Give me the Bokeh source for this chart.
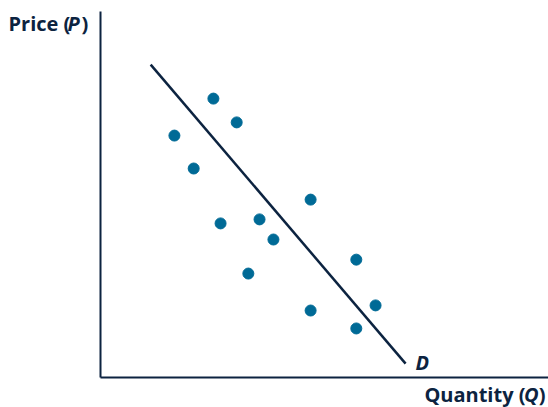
from bokeh.plotting import figure
from bokeh.models import Range1d, Label, LinearAxis, FixedTicker
from bokeh.embed import file_html
from bokeh.resources import INLINE

# Data (abstract units, 0-10 on each axis)
quantity = [1.65, 2.52, 3.04, 2.08, 2.68, 3.55, 3.86, 3.30, 4.69, 5.71, 6.14, 4.69, 5.71]
price = [6.61, 7.62, 6.97, 5.71, 4.21, 4.32, 3.77, 2.84, 4.86, 3.22, 1.97, 1.83, 1.34]
demand_q = [1.12, 6.81]
demand_p = [8.55, 0.38]

NAVY = "#0c2340"
TEAL = "#006a96"
FONT = "Open Sans"

PX = 44.8  # px per x unit
PY = 36.6  # px per y unit
X0, Y0 = 100, 377  # canvas position of the origin

p = figure(width=548, height=407, output_backend="svg", toolbar_location=None,
           x_axis_location=None, y_axis_location=None,
           x_range=Range1d(-X0 / PX, (548 - X0) / PX),
           y_range=Range1d((Y0 - 407) / PY, Y0 / PY),
           min_border=0)
p.outline_line_color = None
p.xgrid.visible = False
p.ygrid.visible = False

xax = LinearAxis(fixed_location=0, bounds=(0, (548 - X0) / PX), ticker=FixedTicker(ticks=[]))
yax = LinearAxis(fixed_location=0, bounds=(0, (Y0 - 11) / PY), ticker=FixedTicker(ticks=[]))
for ax in (xax, yax):
    ax.axis_line_color = NAVY
    ax.axis_line_width = 2
    ax.major_tick_line_color = None
    ax.minor_tick_line_color = None
    ax.major_label_text_font_size = "0px"
    ax.major_tick_out = 0
    ax.major_label_standoff = 0
p.add_layout(xax, "below")
p.add_layout(yax, "left")

p.line(demand_q, demand_p, line_color=NAVY, line_width=2.5)
p.scatter(quantity, price, size=11, fill_color=TEAL, line_color=TEAL)

SHIFT = 7  # rendered baseline offset

def lab(px, py, text, italic=False, align="left"):
    p.add_layout(Label(x=(px - X0) / PX, y=(Y0 - py + SHIFT) / PY, text=text,
                       text_font=FONT, text_font_size="20px",
                       text_font_style="bold italic" if italic else "bold",
                       text_color=NAVY, text_align=align, text_baseline="alphabetic"))

lab(8, 30, "Price (")
lab(67, 30, "P", italic=True)
lab(81, 30, ")")
lab(545, 401, ")", align="right")
lab(538, 401, "Q", italic=True, align="right")
lab(525, 401, "Quantity (", align="right")
lab(415, 369, "D", italic=True)

open("out.html", "w").write(file_html(p, INLINE))
